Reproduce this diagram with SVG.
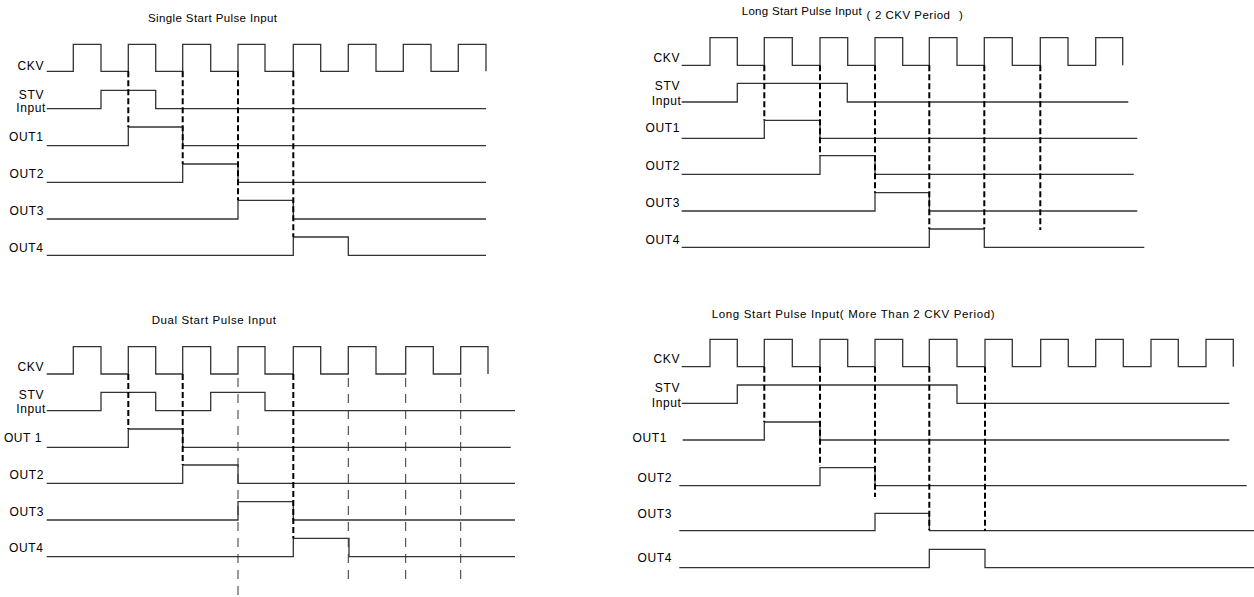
<svg xmlns="http://www.w3.org/2000/svg" width="1254" height="597" viewBox="0 0 1254 597">
<style>
  .bg { fill: #ffffff; }
  .sig { fill: none; stroke: #333333; stroke-width: 1.3; }
  .dash { fill: none; stroke: #000000; stroke-width: 2; stroke-dasharray: 6 3; }
  .thin { fill: none; stroke: #333333; stroke-width: 1; stroke-dasharray: 9 7; }
  .lbl { font-family: "Liberation Sans", Arial, sans-serif; font-size: 12px; fill: #000000; text-anchor: end; letter-spacing: 0.6px; }
  .ttl { font-family: "Liberation Sans", Arial, sans-serif; font-size: 11.5px; fill: #000000; }
  .sub { font-family: "Liberation Sans", Arial, sans-serif; font-size: 11.5px; fill: #000000; }
</style>
<rect class="bg" x="0" y="0" width="1254" height="597"/>

<g id="panel-single">
  <text class="ttl" x="148" y="22" textLength="129">Single Start Pulse Input</text>
  <g id="single-labels">
    <text class="lbl" x="44" y="70">CKV</text>
    <text class="lbl" x="44" y="98.7">STV</text>
    <text class="lbl" x="46" y="112">Input</text>
    <text class="lbl" x="43.5" y="140.7">OUT1</text>
    <text class="lbl" x="44" y="178.3">OUT2</text>
    <text class="lbl" x="44" y="215">OUT3</text>
    <text class="lbl" x="43.5" y="251.7">OUT4</text>
  </g>
  <g id="single-signals">
    <path class="sig" d="M46.7,71.3 H73.3 V44.3 H101 V71.3 H128.3 V44.3 H155.7 V71.3 H182.7 V44.3 H210.7 V71.3 H238 V44.3 H265 V71.3 H293.3 V44.3 H320.7 V71.3 H348.3 V44.3 H376 V71.3 H403.3 V44.3 H431 V71.3 H458.3 V44.3 H486 V71.3"/>
    <path class="sig" d="M46.7,108.7 H101 V90.3 H155.7 V108.7 H486"/>
    <path class="sig" d="M46.7,145.7 H128.3 V127 H182.7 V145.7 H486"/>
    <path class="sig" d="M46.7,182.3 H182.7 V164 H238 V182.3 H486"/>
    <path class="sig" d="M46.7,219 H238 V200.3 H293.3 V219 H486"/>
    <path class="sig" d="M46.7,255.3 H293.3 V237 H348.3 V255.3 H486"/>
  </g>
  <g id="single-connectors">
    <path class="dash" d="M128.3,71.3 V127 M182.7,71.3 V164 M238,71.3 V200.3 M293.3,71.3 V237"/>
  </g>
</g>

<g id="panel-long2">
  <text class="ttl" x="741.7" y="15" textLength="120">Long Start Pulse Input</text>
  <text class="sub" x="866.5" y="18.5">(</text>
  <text class="sub" x="875" y="18.5" textLength="75">2 CKV Period</text>
  <text class="sub" x="959" y="18.5">)</text>
  <g id="long2-labels">
    <text class="lbl" x="680" y="61.7">CKV</text>
    <text class="lbl" x="680" y="90">STV</text>
    <text class="lbl" x="681.5" y="105">Input</text>
    <text class="lbl" x="680" y="132">OUT1</text>
    <text class="lbl" x="680" y="170">OUT2</text>
    <text class="lbl" x="680" y="207.3">OUT3</text>
    <text class="lbl" x="680" y="244">OUT4</text>
  </g>
  <g id="long2-signals">
    <path class="sig" d="M681.7,65.3 H710 V37.7 H737.3 V65.3 H764.3 V37.7 H792.3 V65.3 H820 V37.7 H847.7 V65.3 H875 V37.7 H902.7 V65.3 H929.3 V37.7 H957 V65.3 H984.3 V37.7 H1012.3 V65.3 H1040.3 V37.7 H1068 V65.3 H1095.7 V37.7 H1122.7 V65.3"/>
    <path class="sig" d="M681.7,102 H737.3 V83.3 H847.3 V102 H1128.3"/>
    <path class="sig" d="M681.7,138.3 H764.3 V120.3 H820 V138.3 H1137.3"/>
    <path class="sig" d="M681.7,174.3 H820 V155.7 H875 V174.3 H1133.7"/>
    <path class="sig" d="M681.7,211 H875 V192.7 H929.3 V211 H1137.3"/>
    <path class="sig" d="M681.7,247.3 H929.3 V229 H984.3 V247.3 H1144.3"/>
  </g>
  <g id="long2-connectors">
    <path class="dash" d="M764.3,65.3 V120.3 M820,65.3 V155.7 M875,65.3 V192.7 M929.3,65.3 V229 M984.3,65.3 V229 M1040.3,65.3 V230"/>
  </g>
</g>

<g id="panel-dual">
  <text class="ttl" x="151.7" y="324" textLength="124.3">Dual Start Pulse Input</text>
  <g id="dual-labels">
    <text class="lbl" x="44" y="371">CKV</text>
    <text class="lbl" x="44" y="398.7">STV</text>
    <text class="lbl" x="46" y="413">Input</text>
    <text class="lbl" x="42" y="441.7">OUT 1</text>
    <text class="lbl" x="44" y="479">OUT2</text>
    <text class="lbl" x="44" y="516">OUT3</text>
    <text class="lbl" x="43.5" y="552.3">OUT4</text>
  </g>
  <g id="dual-signals">
    <path class="sig" d="M46.7,374 H73.3 V346.7 H101 V374 H128.3 V346.7 H155.7 V374 H182.7 V346.7 H210.7 V374 H238 V346.7 H265 V374 H293.3 V346.7 H320.7 V374 H348.3 V346.7 H376 V374 H405.7 V346.7 H433.3 V374 H460.7 V346.7 H488 V374"/>
    <path class="sig" d="M46.7,410.7 H101 V392.3 H155.7 V410.7 H210.7 V392.3 H265 V410.7 H515"/>
    <path class="sig" d="M46.7,447.3 H128.3 V429 H182.7 V447.3 H510.7"/>
    <path class="sig" d="M46.7,483.3 H182.7 V465 H238 V483.3 H515"/>
    <path class="sig" d="M46.7,520 H238 V501.7 H293.3 V520 H515"/>
    <path class="sig" d="M46.7,556.7 H293.3 V538.3 H349 V556.7 H515"/>
  </g>
  <g id="dual-connectors">
    <path class="dash" d="M128.3,374 V429 M182.7,374 V465 M293.3,374 V538.3"/>
    <path class="thin" d="M238,378 V597 M348.3,378 V584 M405.7,378 V584 M460.7,378 V584"/>
  </g>
</g>

<g id="panel-longmore">
  <text class="ttl" x="711.7" y="317.5" textLength="283">Long Start Pulse Input( More Than 2 CKV Period)</text>
  <g id="longmore-labels">
    <text class="lbl" x="680" y="362.7">CKV</text>
    <text class="lbl" x="680" y="391.5">STV</text>
    <text class="lbl" x="681.5" y="407">Input</text>
    <text class="lbl" x="667" y="441.7">OUT1</text>
    <text class="lbl" x="672" y="481.7">OUT2</text>
    <text class="lbl" x="672" y="518.3">OUT3</text>
    <text class="lbl" x="672" y="561.7">OUT4</text>
  </g>
  <g id="longmore-signals">
    <path class="sig" d="M681.7,366.7 H710 V339.3 H737.3 V366.7 H764.3 V339.3 H792.3 V366.7 H820 V339.3 H847.7 V366.7 H875 V339.3 H902.7 V366.7 H929.3 V339.3 H957 V366.7 H985 V339.3 H1012.3 V366.7 H1040.7 V339.3 H1068.3 V366.7 H1095.7 V339.3 H1123.3 V366.7 H1151 V339.3 H1178.3 V366.7 H1206 V339.3 H1233.3 V366.7"/>
    <path class="sig" d="M681.7,403.3 H737.3 V385 H957 V403.3 H1229.3"/>
    <path class="sig" d="M682.7,440 H764.3 V422 H820 V440 H1229.3"/>
    <path class="sig" d="M679.3,485.7 H820 V467.7 H875 V485.7 H1246.7"/>
    <path class="sig" d="M679.3,530.7 H875 V513.3 H929.3 V530.7 H1254"/>
    <path class="sig" d="M679.3,567.7 H929.3 V549.3 H985 V567.7 H1254"/>
  </g>
  <g id="longmore-connectors">
    <path class="dash" d="M764.3,366.7 V422 M820,366.7 V466 M875,366.7 V497 M929.3,366.7 V530 M985,366.7 V531"/>
  </g>
</g>
</svg>
